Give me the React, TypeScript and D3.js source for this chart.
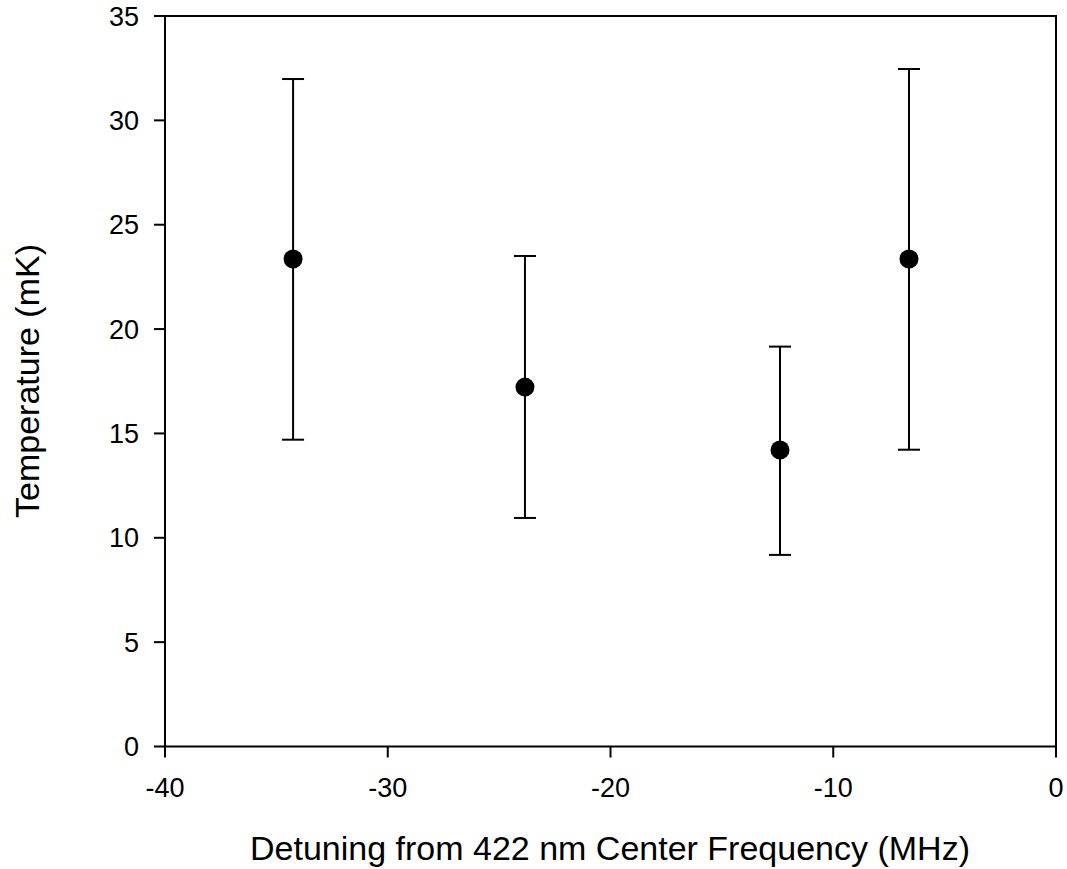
import React from "react";
import * as d3 from "d3";

const detuning = [-34.25, -23.84, -12.39, -6.6];
const temperature = [23.36, 17.22, 14.21, 23.36];
const errUpper = [31.98, 23.5, 19.16, 32.46];
const errLower = [14.7, 10.95, 9.18, 14.22];
const xTicks = [-40, -30, -20, -10, 0];
const yTicks = [0, 5, 10, 15, 20, 25, 30, 35];

const W = 1067;
const H = 869;
const M = { left: 165, right: 1056, top: 16, bottom: 746.5 };

export default function App() {
  const x = d3.scaleLinear().domain([-40, 0]).range([M.left, M.right]);
  const y = d3.scaleLinear().domain([0, 35]).range([M.bottom, M.top]);
  const font = "'Liberation Sans', Arial, sans-serif";
  const cap = 11;
  return (
    <svg width={W} height={H} style={{ position: "absolute", left: 0, top: 0, background: "#fff" }}>
      <rect x={M.left} y={M.top} width={M.right - M.left} height={M.bottom - M.top} fill="none" stroke="#000" strokeWidth={2} />
      {xTicks.map((t) => (
        <g key={"x" + t}>
          <line x1={x(t)} x2={x(t)} y1={M.bottom} y2={M.bottom + 11} stroke="#000" strokeWidth={2} />
          <text x={x(t)} y={797} textAnchor="middle" fontFamily={font} fontSize={27} fill="#000">{t}</text>
        </g>
      ))}
      {yTicks.map((t) => (
        <g key={"y" + t}>
          <line x1={M.left - 11} x2={M.left} y1={y(t)} y2={y(t)} stroke="#000" strokeWidth={2} />
          <text x={139} y={y(t) + 9.5} textAnchor="end" fontFamily={font} fontSize={27} fill="#000">{t}</text>
        </g>
      ))}
      {detuning.map((d, i) => (
        <g key={"p" + i}>
          <line x1={x(d)} x2={x(d)} y1={y(errUpper[i])} y2={y(errLower[i])} stroke="#000" strokeWidth={2} />
          <line x1={x(d) - cap} x2={x(d) + cap} y1={y(errUpper[i])} y2={y(errUpper[i])} stroke="#000" strokeWidth={2} />
          <line x1={x(d) - cap} x2={x(d) + cap} y1={y(errLower[i])} y2={y(errLower[i])} stroke="#000" strokeWidth={2} />
          <circle cx={x(d)} cy={y(temperature[i])} r={9.5} fill="#000" />
        </g>
      ))}
      <text x={610} y={860} textAnchor="middle" fontFamily={font} fontSize={34} fill="#000">Detuning from 422 nm Center Frequency (MHz)</text>
      <text transform={`translate(39, 381) rotate(-90)`} textAnchor="middle" fontFamily={font} fontSize={34} fill="#000">Temperature (mK)</text>
    </svg>
  );
}
